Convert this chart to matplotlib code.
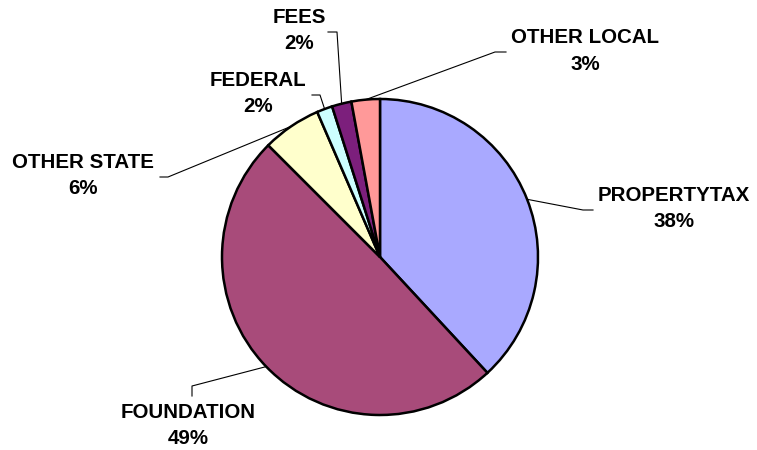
import numpy as np
import matplotlib.pyplot as plt

# Data
categories = ["PROPERTYTAX", "FOUNDATION", "OTHER STATE", "FEDERAL", "FEES", "OTHER LOCAL"]
shares = [38.1, 49.4, 6.0, 1.6, 2.0, 2.9]
colors = ["#A9A9FF", "#A84B7A", "#FFFFCC", "#CCFFFF", "#7C1F7C", "#FF9999"]

# label layout in pixel coords (x, name y, pct y) and leader elbow (start, elbow)
label_pos = [(674, 195.5, 221.5), (188, 412.5, 438.5), (83, 162, 188),
             (258, 81, 106.5), (299, 17.5, 43.5), (585, 37.5, 64)]
leaders = [((593, 210), (583, 210)), ((192, 396), (192, 386)), ((160, 177), (168, 177)),
           ((312, 95), (320, 95)), ((328, 32), (337, 32)), ((506, 52), (495, 52))]

W, H = 757, 450
cx, cy, r = 380, 257, 158

fig = plt.figure(figsize=(7.57, 4.5), dpi=100)
ax = fig.add_axes([0, 0, 1, 1])

wedges, _ = ax.pie(shares, colors=colors, startangle=90, counterclock=False,
                   center=(cx, H - cy), radius=r,
                   wedgeprops=dict(edgecolor="black", linewidth=1.8))
ax.set_xlim(0, W)
ax.set_ylim(0, H)
ax.set_aspect("equal")
ax.axis("off")

total = sum(shares)
for w, name, val, (tx, ny, py), (p0, p1) in zip(wedges, categories, shares, label_pos, leaders):
    mid = np.deg2rad((w.theta1 + w.theta2) / 2)
    ex = cx + r * np.cos(mid)
    ey = (H - cy) + r * np.sin(mid)
    ax.plot([p0[0], p1[0], ex], [H - p0[1], H - p1[1], ey], color="black", lw=0.8)
    ax.text(tx, H - ny, name, ha="center", va="center", fontsize=14.8,
            fontweight="bold", family="Liberation Sans")
    ax.text(tx, H - py, f"{round(val / total * 100)}%", ha="center", va="center",
            fontsize=14.8, fontweight="bold", family="Liberation Sans")

fig.savefig("out.png", dpi=100)
